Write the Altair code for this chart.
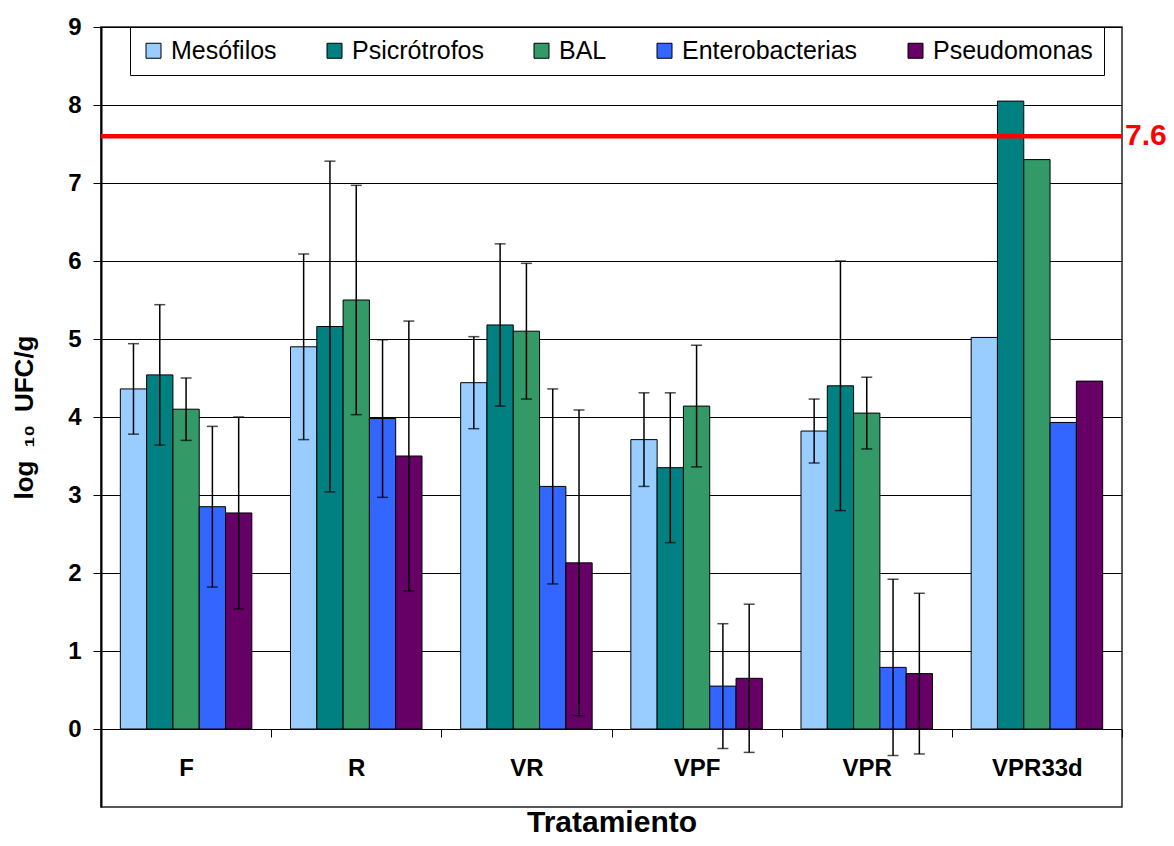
import altair as alt
import pandas as pd

tratamientos = ["F", "R", "VR", "VPF", "VPR", "VPR33d"]
grupos = ["Mesófilos", "Psicrótrofos", "BAL", "Enterobacterias", "Pseudomonas"]
colores = ["#99CCFF", "#008080", "#339966", "#3366FF", "#660066"]

mesofilos = [4.36, 4.90, 4.44, 3.71, 3.82, 5.02]
psicrotrofos = [4.54, 5.16, 5.18, 3.35, 4.40, 8.05]
bal = [4.10, 5.50, 5.10, 4.14, 4.05, 7.30]
enterobacterias = [2.85, 3.98, 3.11, 0.55, 0.79, 3.93]
pseudomonas = [2.77, 3.50, 2.13, 0.65, 0.71, 4.46]

sd_mesofilos = [0.58, 1.19, 0.59, 0.60, 0.41, None]
sd_psicrotrofos = [0.90, 2.12, 1.04, 0.96, 1.60, None]
sd_bal = [0.40, 1.47, 0.87, 0.78, 0.46, None]
sd_enterobacterias = [1.03, 1.01, 1.25, 0.80, 1.13, None]
sd_pseudomonas = [1.23, 1.73, 1.96, 0.95, 1.03, None]

limite = [7.6]
limite_texto = ["7.6"]

series = [mesofilos, psicrotrofos, bal, enterobacterias, pseudomonas]
sds = [sd_mesofilos, sd_psicrotrofos, sd_bal, sd_enterobacterias, sd_pseudomonas]

rows = []
for g, vals, errs in zip(grupos, series, sds):
    for t, v, e in zip(tratamientos, vals, errs):
        rows.append({
            "trat": t, "grupo": g, "valor": v,
            "lo": (v - e) if e is not None else None,
            "hi": (v + e) if e is not None else None,
        })
df = pd.DataFrame(rows)
df_err = df.dropna(subset=["lo"])

W, H = 1021, 780
FONT = "Liberation Sans"

x_enc = alt.X(
    "trat:N", sort=tratamientos,
    scale=alt.Scale(paddingInner=0, paddingOuter=0),
    axis=alt.Axis(
        title="Tratamiento", labelAngle=0, offset=-78, domain=False,
        tickBand="extent", tickSize=8, tickColor="black", tickWidth=1,
        labelFont=FONT, labelFontSize=24, labelFontWeight="bold", labelColor="black",
        labelPadding=19, grid=False,
        titleFont=FONT, titleFontSize=30, titleFontWeight="bold", titleColor="black",
        titleY=102, titleBaseline="alphabetic",
    ),
)
xoff_enc = alt.XOffset("grupo:N", sort=grupos,
                       scale=alt.Scale(paddingOuter=0.735, paddingInner=0))
y_scale = alt.Scale(domain=[-1, 9], nice=False, zero=False)

bars = alt.Chart(df).mark_bar(stroke="black", strokeWidth=1).encode(
    x=x_enc,
    xOffset=xoff_enc,
    y=alt.Y("valor:Q", scale=y_scale,
            axis=alt.Axis(
                values=list(range(0, 10)), format="d",
                title="log\u2002\u2081\u2080\u2002UFC/g",
                domainColor="black", domainWidth=2,
                tickColor="black", tickSize=8, tickWidth=1,
                gridColor="black", gridWidth=1, gridOpacity=1,
                labelFont=FONT, labelFontSize=24, labelFontWeight="bold",
                labelColor="black", labelPadding=12,
                titleFont=FONT, titleFontSize=26, titleFontWeight="bold",
                titleColor="black", titleX=-77, titleY=H / 2,
                titleAlign="center", titleBaseline="middle", titleAngle=270,
            )),
    color=alt.Color("grupo:N", sort=grupos,
                    scale=alt.Scale(domain=grupos, range=colores),
                    legend=alt.Legend(
                        title=None, orient="none", direction="horizontal",
                        legendX=29, legendY=0,
                        symbolType="square", symbolSize=225,
                        symbolStrokeColor="black", symbolStrokeWidth=1,
                        labelFont=FONT, labelFontSize=25, labelColor="black",
                        labelLimit=400,
                        labelOffset=5, columnPadding=45,
                        padding=11, strokeColor="black", fillColor="white",
                    )),
)

err_rule = alt.Chart(df_err).mark_rule(color="black", strokeWidth=1.5).encode(
    x=alt.X("trat:N", sort=tratamientos),
    xOffset=alt.XOffset("grupo:N", sort=grupos),
    y="lo:Q", y2="hi:Q",
)
cap_lo = alt.Chart(df_err).mark_tick(color="black", thickness=1.5, size=11,
                                     orient="horizontal").encode(
    x=alt.X("trat:N", sort=tratamientos),
    xOffset=alt.XOffset("grupo:N", sort=grupos),
    y="lo:Q",
)
cap_hi = alt.Chart(df_err).mark_tick(color="black", thickness=1.5, size=11,
                                     orient="horizontal").encode(
    x=alt.X("trat:N", sort=tratamientos),
    xOffset=alt.XOffset("grupo:N", sort=grupos),
    y="hi:Q",
)

df_lim = pd.DataFrame({"v": limite, "t": limite_texto})
red_line = alt.Chart(df_lim).mark_rule(color="#FF0000", strokeWidth=4.5).encode(
    y=alt.Y("v:Q"),
)
red_text = alt.Chart(df_lim).mark_text(
    color="#FF0000", font=FONT, fontSize=30, fontWeight="bold",
    align="left", baseline="middle", dx=3, clip=False,
).encode(
    x=alt.value(W),
    y=alt.Y("v:Q"),
    text="t:N",
)

chart = alt.layer(bars, err_rule, cap_lo, cap_hi, red_line, red_text).properties(
    width=W, height=H,
    autosize=alt.AutoSizeParams(type="none"),
    padding={"left": 93, "top": 19, "right": 44, "bottom": 31},
).configure_view(
    stroke="#222222", strokeWidth=1.5,
)

chart.save("out.html", embed_options={"renderer": "svg", "actions": False})
